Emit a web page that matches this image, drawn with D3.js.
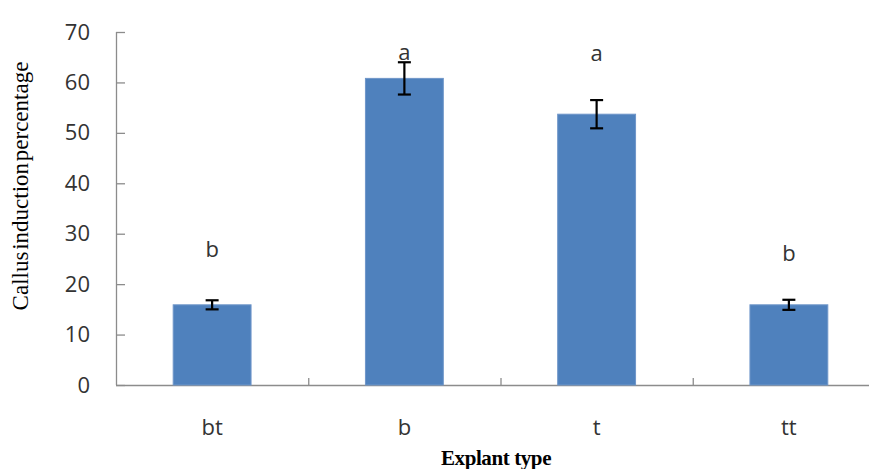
<!DOCTYPE html>
<html>
<head>
<meta charset="utf-8">
<script src="https://cdn.jsdelivr.net/npm/d3@7"></script>
<style>
  body { margin: 0; background: #fff; }
</style>
</head>
<body>
<div id="chart"></div>
<script>
// dữ liệu
const categories = ["bt", "b", "t", "tt"];
const values = [15.9, 60.8, 53.7, 15.9];
const errors = [0.9, 3.2, 2.8, 1.0];
const letters = ["b", "a", "a", "b"];
const letterLevel = [25.4, 64.4, 64.2, 24.6];
const yTicks = [0, 10, 20, 30, 40, 50, 60, 70];

const width = 869, height = 469;
const margin = { top: 32, right: -16, bottom: 84, left: 116 };

const svg = d3.select("#chart").append("svg")
    .attr("width", width)
    .attr("height", height);

const x = d3.scaleBand()
    .domain(categories)
    .range([margin.left, width - margin.right])
    .paddingInner(0.595)
    .paddingOuter(0.2975);

const y = d3.scaleLinear()
    .domain([0, 70])
    .range([height - margin.bottom, margin.top]);

const axisColor = "#8c8c8c";

// trục Y
const yAxis = svg.append("g")
    .attr("transform", `translate(${margin.left},0)`)
    .call(d3.axisRight(y).tickValues(yTicks).tickSize(9).tickFormat(d3.format("d")));
yAxis.select(".domain").attr("stroke", axisColor).attr("stroke-width", 1.3)
    .attr("d", `M0.5,${y(70)}V${y(0)}`);
yAxis.selectAll(".tick line").attr("stroke", axisColor).attr("stroke-width", 1.3);
yAxis.selectAll(".tick text")
    .attr("x", -26)
    .attr("text-anchor", "end")
    .attr("font-family", "'Open Sans', sans-serif")
    .attr("font-size", "22px")
    .attr("fill", "#333");

// trục X
const step = x.step();
const xStart = margin.left;
const xEnd = width - margin.right;
svg.append("line")
    .attr("x1", xStart).attr("x2", xEnd)
    .attr("y1", y(0) + 0.5).attr("y2", y(0) + 0.5)
    .attr("stroke", axisColor).attr("stroke-width", 1.3);
svg.selectAll(".xsep")
    .data(categories.slice(1))
    .enter().append("line")
    .attr("x1", d => x(d) - step * x.paddingInner() / 2 + 0.5)
    .attr("x2", d => x(d) - step * x.paddingInner() / 2 + 0.5)
    .attr("y1", y(0)).attr("y2", y(0) - 7)
    .attr("stroke", axisColor).attr("stroke-width", 1.3);

svg.selectAll(".xlabel")
    .data(categories)
    .enter().append("text")
    .attr("x", d => x(d) + x.bandwidth() / 2)
    .attr("y", 435)
    .attr("text-anchor", "middle")
    .attr("font-family", "'Open Sans', sans-serif")
    .attr("font-size", "22px")
    .attr("fill", "#333")
    .text(d => d);

// các cột
svg.selectAll(".bar")
    .data(categories)
    .enter().append("rect")
    .attr("x", d => x(d))
    .attr("y", (d, i) => y(values[i]))
    .attr("width", x.bandwidth())
    .attr("height", (d, i) => y(0) - y(values[i]))
    .attr("fill", "#4f81bd")
    .attr("stroke", "#6f96c9")
    .attr("stroke-width", 1);

// thanh sai số
const eb = svg.selectAll(".err")
    .data(categories)
    .enter().append("g")
    .attr("stroke", "#000")
    .attr("stroke-width", 2.2);
eb.append("line")
    .attr("x1", d => x(d) + x.bandwidth() / 2)
    .attr("x2", d => x(d) + x.bandwidth() / 2)
    .attr("y1", (d, i) => y(values[i] + errors[i]))
    .attr("y2", (d, i) => y(values[i] - errors[i]));
eb.append("line")
    .attr("x1", d => x(d) + x.bandwidth() / 2 - 6.5)
    .attr("x2", d => x(d) + x.bandwidth() / 2 + 6.5)
    .attr("y1", (d, i) => y(values[i] + errors[i]))
    .attr("y2", (d, i) => y(values[i] + errors[i]));
eb.append("line")
    .attr("x1", d => x(d) + x.bandwidth() / 2 - 6.5)
    .attr("x2", d => x(d) + x.bandwidth() / 2 + 6.5)
    .attr("y1", (d, i) => y(values[i] - errors[i]))
    .attr("y2", (d, i) => y(values[i] - errors[i]));

// chữ cái ý nghĩa thống kê
svg.selectAll(".letter")
    .data(categories)
    .enter().append("text")
    .attr("x", d => x(d) + x.bandwidth() / 2)
    .attr("y", (d, i) => y(letterLevel[i]))
    .attr("text-anchor", "middle")
    .attr("font-family", "'Open Sans', sans-serif")
    .attr("font-size", "22px")
    .attr("fill", "#333")
    .text((d, i) => letters[i]);

// tiêu đề trục
svg.append("text")
    .attr("transform", `translate(28,${186}) rotate(-90)`)
    .attr("text-anchor", "middle")
    .attr("font-family", "'Liberation Serif', serif")
    .attr("font-size", "23px")
    .attr("word-spacing", "-4px")
    .attr("fill", "#000")
    .text("Callus induction percentage");

svg.append("text")
    .attr("x", 496)
    .attr("y", 465)
    .attr("text-anchor", "middle")
    .attr("font-family", "'Liberation Serif', serif")
    .attr("font-size", "21px")
    .attr("font-weight", "bold")
    .attr("letter-spacing", "-0.4px")
    .attr("fill", "#000")
    .text("Explant type");
</script>
</body>
</html>
